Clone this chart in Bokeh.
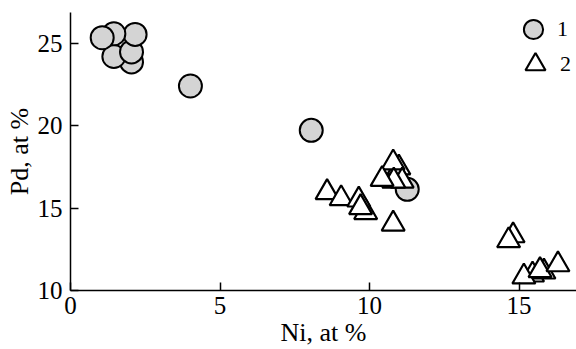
from bokeh.plotting import figure
from bokeh.models import FixedTicker, Legend, LegendItem, Range1d
from bokeh.embed import file_html
from bokeh.resources import INLINE

# Series 1 (circles)
s1_ni = [2.04, 1.45, 2.04, 2.16, 1.45, 1.06, 4.01, 8.05, 11.26]
s1_pd = [23.87, 24.20, 24.48, 25.54, 25.58, 25.34, 22.41, 19.72, 16.14]

# Series 2 (triangles)
s2_ni = [8.58, 9.05, 9.87, 9.64, 9.70, 10.79, 10.98, 10.79, 11.09, 10.81, 10.42,
         14.80, 14.65, 15.45, 15.16, 15.83, 15.70, 16.30]
s2_pd = [15.95, 15.58, 14.74, 15.50, 15.04, 14.04, 17.45, 17.75, 16.65, 16.65, 16.75,
         13.33, 13.03, 10.95, 10.83, 11.13, 11.22, 11.57]

x_ticks = [0, 5, 10, 15]
y_ticks = [10, 15, 20, 25]
x_label = "Ni, at %"
y_label = "Pd, at %"
series_labels = ["1", "2"]

FONT = "Liberation Serif"

p = figure(width=576, height=349, output_backend="svg", toolbar_location=None,
           x_range=Range1d(0, 16.92), y_range=Range1d(10, 26.87),
           min_border_left=70, min_border_right=0, min_border_top=12, min_border_bottom=57)
p.outline_line_color = None
p.grid.visible = False
p.background_fill_color = "white"

for ax in (p.xaxis[0], p.yaxis[0]):
    ax.axis_line_color = "black"
    ax.axis_line_width = 1.5
    ax.major_tick_in = 8
    ax.major_tick_out = 0
    ax.major_tick_line_color = "black"
    ax.major_tick_line_width = 1.5
    ax.minor_tick_line_color = None
    ax.major_label_text_font = FONT
    ax.major_label_text_font_size = "25px"
    ax.major_label_text_color = "black"
    ax.axis_label_text_font = FONT
    ax.axis_label_text_font_size = "26px"
    ax.axis_label_text_font_style = "normal"
    ax.axis_label_text_color = "black"

p.xaxis[0].ticker = FixedTicker(ticks=x_ticks)
p.yaxis[0].ticker = FixedTicker(ticks=y_ticks)
p.xaxis[0].major_label_standoff = 6
p.yaxis[0].major_label_standoff = 8
p.xaxis[0].axis_label = x_label
p.xaxis[0].axis_label_standoff = 1
p.yaxis[0].axis_label = y_label
p.yaxis[0].axis_label_standoff = 1

r1 = p.scatter(s1_ni, s1_pd, marker="circle", size=23, fill_color="#d4d4d4",
               line_color="black", line_width=2)
r2 = p.scatter(s2_ni, s2_pd, marker="triangle", size=23, fill_color="white",
               line_color="black", line_width=2.2)

leg1 = Legend(items=[LegendItem(label=series_labels[0], renderers=[r1])],
              location=(439, 237), glyph_width=48, glyph_height=48,
              label_standoff=0, padding=0, margin=0, spacing=0,
              border_line_color=None, background_fill_alpha=0,
              label_text_font=FONT, label_text_font_size="22px",
              label_text_color="black")
leg2 = Legend(items=[LegendItem(label=series_labels[1], renderers=[r2])],
              location=(440, 196), glyph_width=50, glyph_height=60,
              label_standoff=0, padding=0, margin=0, spacing=0,
              border_line_color=None, background_fill_alpha=0,
              label_text_font=FONT, label_text_font_size="22px",
              label_text_color="black")
p.add_layout(leg1)
p.add_layout(leg2)

open("out.html", "w").write(file_html(p, INLINE))
